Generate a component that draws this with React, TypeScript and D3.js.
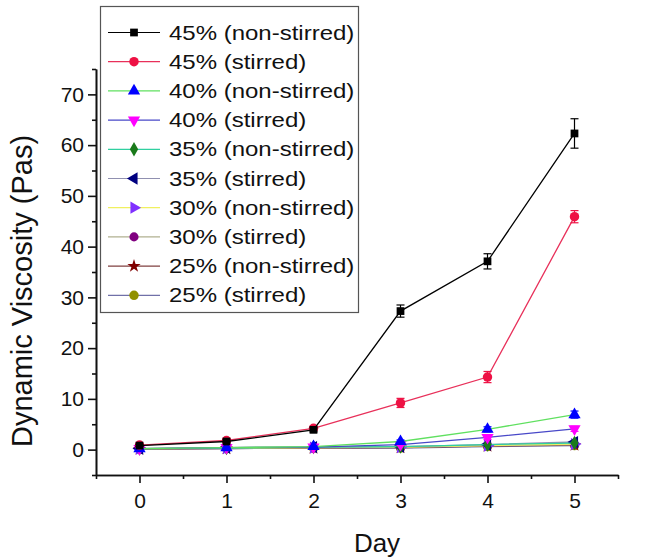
import { useEffect, useRef } from "react";
import * as d3 from "d3";

const days = [0, 1, 2, 3, 4, 5];

const seriesNames = [
  "45% (non-stirred)",
  "45% (stirred)",
  "40% (non-stirred)",
  "40% (stirred)",
  "35% (non-stirred)",
  "35% (stirred)",
  "30% (non-stirred)",
  "30% (stirred)",
  "25% (non-stirred)",
  "25% (stirred)",
];

const v45ns = [0.8, 1.6, 3.9, 27.3, 37.1, 62.3];
const v45s = [0.9, 1.8, 4.2, 9.2, 14.3, 45.9];
const v40ns = [0.2, 0.4, 0.6, 1.6, 4.0, 6.9];
const v40s = [0.2, 0.4, 0.5, 1.0, 2.4, 4.1];
const v35ns = [0.2, 0.3, 0.5, 0.6, 1.0, 1.3];
const v35s = [0.2, 0.4, 0.5, 0.6, 1.0, 1.5];
const v30ns = [0.2, 0.3, 0.4, 0.5, 0.8, 1.1];
const v30s = [0.2, 0.3, 0.4, 0.5, 0.8, 1.0];
const v25ns = [0.1, 0.2, 0.3, 0.4, 0.7, 0.9];
const v25s = [0.1, 0.2, 0.3, 0.3, 0.6, 0.8];

const e45ns = [0.2, 0.3, 0.4, 1.2, 1.5, 2.9];
const e45s = [0.2, 0.3, 0.4, 0.9, 1.1, 1.2];
const e40ns = [0.1, 0.1, 0.1, 0.3, 0.5, 0.7];
const e40s = [0.1, 0.1, 0.1, 0.2, 0.4, 0.5];

const allValues = [v45ns, v45s, v40ns, v40s, v35ns, v35s, v30ns, v30s, v25ns, v25s];
const allErrors = [e45ns, e45s, e40ns, e40s, null, null, null, null, null, null];

const lineColors = ["#000000", "#e8305a", "#60e060", "#4848c8", "#30d0a0", "#9090b0", "#f0f060", "#b0b090", "#804040", "#7070a8"];
const markColors = ["#000000", "#ee1144", "#0000ff", "#ff00ff", "#1a7a1a", "#000080", "#8030ff", "#800080", "#800000", "#909000"];
const markShapes = ["square", "circle", "up", "down", "diamond", "left", "right", "hex", "star", "circle"];

const yTicks = [0, 10, 20, 30, 40, 50, 60, 70];
const yMinor = [-5, 5, 15, 25, 35, 45, 55, 65, 75];
const xMinor = [-0.5, 0.5, 1.5, 2.5, 3.5, 4.5, 5.5];

const font = "'Liberation Sans', Arial, sans-serif";

function markPath(shape: string) {
  const sym = d3.symbol().size(70);
  if (shape === "square") return sym.type(d3.symbolSquare).size(60)();
  if (shape === "circle") return sym.type(d3.symbolCircle)();
  if (shape === "diamond") return sym.type(d3.symbolDiamond).size(60)();
  if (shape === "star") return sym.type(d3.symbolStar).size(55)();
  if (shape === "hex") return sym.type(d3.symbolCircle).size(65)();
  return sym.type(d3.symbolTriangle).size(65)();
}

function markRotate(shape: string) {
  if (shape === "down") return 180;
  if (shape === "left") return -90;
  if (shape === "right") return 90;
  return 0;
}

const App = () => {
  const ref = useRef<SVGSVGElement>(null);

  useEffect(() => {
    const svg = d3.select(ref.current);
    svg.selectAll("*").remove();

    const x = d3.scaleLinear().domain([-0.5, 5.5]).range([96, 618]);
    const y = d3.scaleLinear().domain([-5, 75]).range([475, 69]);

    // axes
    const yAxis = svg
      .append("g")
      .attr("transform", "translate(96,0)")
      .call(d3.axisLeft(y).tickValues(yTicks).tickFormat(d3.format("d")).tickSize(8).tickPadding(4).tickSizeOuter(0));
    yAxis.selectAll("text").attr("font-size", 21).attr("font-family", font).attr("fill", "#111");
    svg
      .append("g")
      .attr("transform", "translate(96,0)")
      .call(d3.axisLeft(y).tickValues(yMinor).tickSize(4).tickFormat(() => "").tickSizeOuter(0));

    const xAxis = svg
      .append("g")
      .attr("transform", "translate(0,475)")
      .call(d3.axisBottom(x).tickValues(days).tickFormat(d3.format("d")).tickSize(8).tickPadding(10).tickSizeOuter(0));
    xAxis.selectAll("text").attr("font-size", 21).attr("font-family", font).attr("fill", "#111");
    svg
      .append("g")
      .attr("transform", "translate(0,475)")
      .call(d3.axisBottom(x).tickValues(xMinor).tickSize(4).tickFormat(() => "").tickSizeOuter(0));
    svg.selectAll(".domain, .tick line").attr("stroke", "#111").attr("stroke-width", 1.6);

    // axis titles
    svg
      .append("text")
      .attr("x", 377)
      .attr("y", 552)
      .attr("text-anchor", "middle")
      .attr("font-size", 26)
      .attr("font-family", font)
      .attr("fill", "#111")
      .text("Day");
    svg
      .append("text")
      .attr("transform", "translate(32,291) rotate(-90)")
      .attr("text-anchor", "middle")
      .attr("font-size", 29)
      .attr("font-family", font)
      .attr("fill", "#111")
      .text("Dynamic Viscosity (Pas)");

    // series, drawn back to front so the 45% curves stay on top
    const line = d3
      .line<number>()
      .x((d, i) => x(days[i]))
      .y((d) => y(d));

    for (let s = allValues.length - 1; s >= 0; s--) {
      const vals = allValues[s];
      const errs = allErrors[s];
      const g = svg.append("g");
      g.append("path")
        .attr("d", line(vals))
        .attr("fill", "none")
        .attr("stroke", lineColors[s])
        .attr("stroke-width", 1.3);
      if (errs) {
        vals.forEach((v, i) => {
          const cx = x(days[i]);
          const y1 = y(v + errs[i]);
          const y2 = y(v - errs[i]);
          g.append("line").attr("x1", cx).attr("x2", cx).attr("y1", y1).attr("y2", y2)
            .attr("stroke", markColors[s]).attr("stroke-width", 1.2);
          [y1, y2].forEach((yy) =>
            g.append("line").attr("x1", cx - 4).attr("x2", cx + 4).attr("y1", yy).attr("y2", yy)
              .attr("stroke", markColors[s]).attr("stroke-width", 1.2)
          );
        });
      }
      g.selectAll("path.mark")
        .data(vals)
        .enter()
        .append("path")
        .attr("class", "mark")
        .attr("d", markPath(markShapes[s]))
        .attr("transform", (d, i) => `translate(${x(days[i])},${y(d)}) rotate(${markRotate(markShapes[s])})`)
        .attr("fill", markColors[s]);
    }

    // legend
    const lg = svg.append("g");
    lg.append("rect")
      .attr("x", 100.5)
      .attr("y", 6.5)
      .attr("width", 258)
      .attr("height", 306)
      .attr("fill", "#fff")
      .attr("stroke", "#555")
      .attr("stroke-width", 1.2);
    seriesNames.forEach((name, s) => {
      const cy = 32.5 + s * 29.2;
      lg.append("line").attr("x1", 108).attr("x2", 160).attr("y1", cy).attr("y2", cy)
        .attr("stroke", lineColors[s]).attr("stroke-width", 1.2);
      lg.append("path")
        .attr("d", markPath(markShapes[s]))
        .attr("transform", `translate(134,${cy}) rotate(${markRotate(markShapes[s])})`)
        .attr("fill", markColors[s]);
      lg.append("text")
        .attr("transform", `translate(169,${cy + 7}) scale(1.2,1)`)
        .attr("font-size", 20)
        .attr("font-family", font)
        .attr("fill", "#111")
        .text(name);
    });
  }, []);

  return (
    <svg
      ref={ref}
      width={655}
      height={558}
      style={{ position: "absolute", left: 0, top: 0, background: "#fff" }}
    />
  );
};

export default App;
